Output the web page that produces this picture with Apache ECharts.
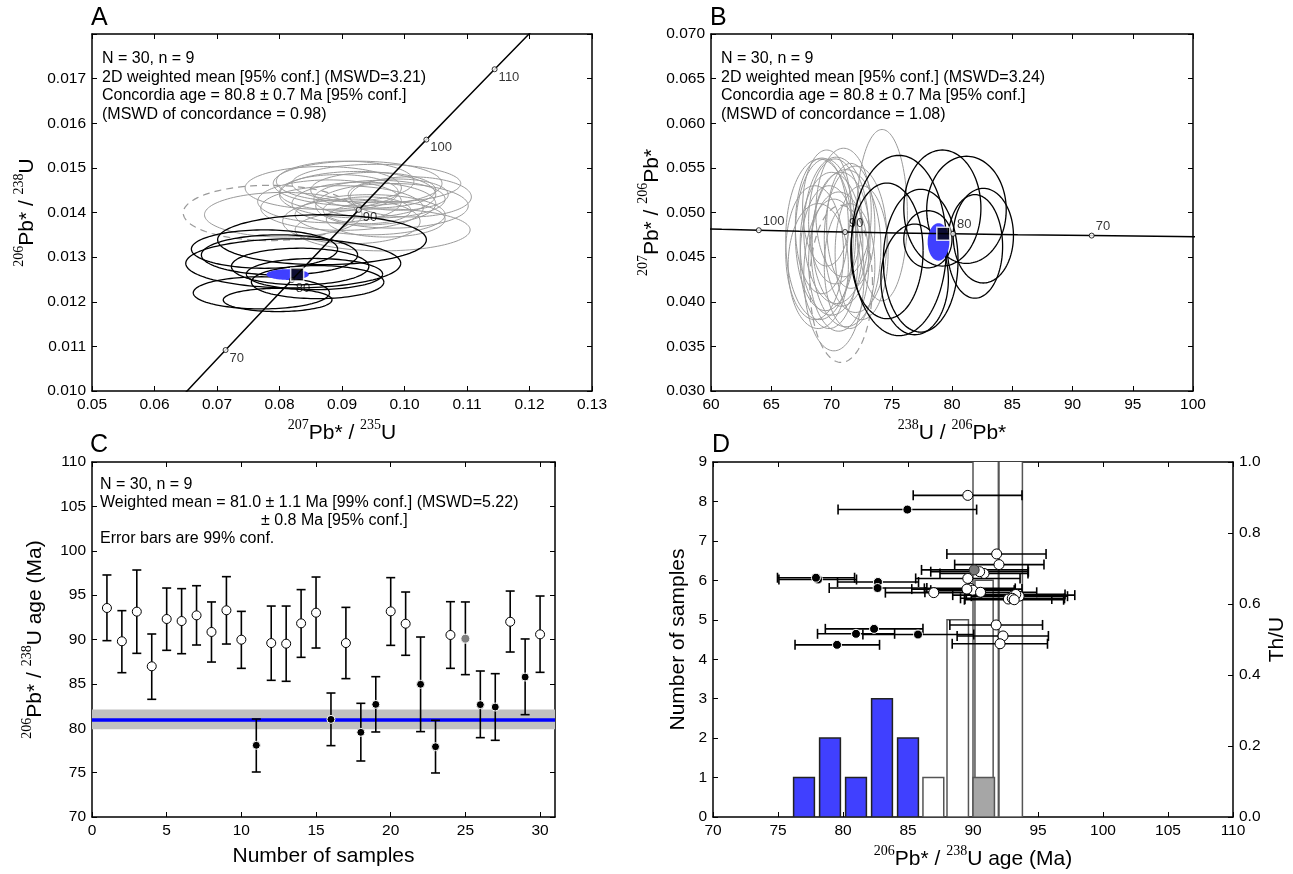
<!DOCTYPE html>
<html><head><meta charset="utf-8">
<script src="https://cdn.jsdelivr.net/npm/echarts@6/dist/echarts.min.js"></script>
<style>html,body{margin:0;padding:0;background:#fff}#c{width:1293px;height:874px}</style>
</head><body><div id="c"></div><script>
// ---------------- Panel A (Wetherill concordia): ellipses [207Pb/235U, 206Pb/238U, half-width, half-height]
const aGrayEllipses = [
 [0.0806,0.01395,0.0126,0.00050],[0.0870,0.01455,0.0125,0.00048],[0.0905,0.01470,0.0110,0.00045],
 [0.0925,0.01440,0.0125,0.00052],[0.0935,0.01420,0.0115,0.00048],[0.0950,0.01450,0.0100,0.00040],
 [0.0900,0.01410,0.0130,0.00050],[0.0945,0.01395,0.0120,0.00045],[0.0965,0.01361,0.0140,0.00047],
 [0.0960,0.01430,0.0105,0.00042],[0.0980,0.01415,0.0122,0.00050],[0.0915,0.01380,0.0110,0.00050],
 [0.0955,0.01465,0.0135,0.00043],[0.0990,0.01440,0.0080,0.00035],[0.0940,0.01405,0.0070,0.00030],
 [0.0895,0.01445,0.0095,0.00040],[0.0970,0.01385,0.0095,0.00040],[0.0925,0.01465,0.0135,0.00050],
 [0.1010,0.01435,0.0097,0.00045],[0.0880,0.01425,0.0115,0.00048]
];
const aDashedEllipses = [[0.0784,0.01399,0.0138,0.00062]];
const aBlackEllipses = [
 [0.0868,0.01339,0.0167,0.00056],[0.0776,0.01318,0.0117,0.00043],[0.0822,0.01286,0.0172,0.00055],
 [0.0833,0.01279,0.0110,0.00041],[0.0856,0.01262,0.0109,0.00035],[0.0771,0.01220,0.0109,0.00036],
 [0.0797,0.01204,0.0087,0.00026],[0.0861,0.01244,0.0106,0.00037],[0.0800,0.01305,0.0125,0.00045]
];
const aMeanEllipse = [[0.0813,0.01261,0.0034,0.00012]];
const concAges = [60,65,70,75,80,85,90,95,100,105,110,115,120];
const aConcX = [0.060872,0.066108,0.071371,0.076660,0.081975,0.087316,0.092683,0.098077,0.103498,0.108945,0.114419,0.119920,0.125449];
const aConcY = [0.0093509,0.0101341,0.0109180,0.0117023,0.0124873,0.0132729,0.0140592,0.0148460,0.0156334,0.0164215,0.0172102,0.0179995,0.0187894];
const aLabelAges = [70,80,90,100,110];
const aConcordiaAge = [[0.082828,0.012613]];
// ---------------- Panel B (Tera-Wasserburg): ellipses [238U/206Pb, 207Pb/206Pb, half-width, half-height]
const bGrayEllipses = [
 [74.2,0.0497,2.1,0.0096],[69.0,0.0470,2.8,0.0090],[69.5,0.0475,2.5,0.0085],[70.0,0.0465,2.6,0.0080],
 [70.4,0.0480,2.7,0.0082],[70.8,0.0470,2.4,0.0075],[71.2,0.0460,2.9,0.0088],[69.8,0.0450,2.4,0.0080],
 [68.6,0.0455,2.4,0.0075],[70.3,0.0490,2.2,0.0070],[71.6,0.0485,2.0,0.0070],[72.0,0.0470,2.6,0.0082],
 [69.2,0.0485,2.2,0.0076],[70.6,0.0445,2.5,0.0078],[71.0,0.0500,2.3,0.0072],[68.9,0.0440,2.5,0.0070],
 [72.5,0.0455,2.2,0.0075],[70.2,0.0430,2.5,0.0085],[69.6,0.0505,2.0,0.0065],[71.5,0.0440,2.1,0.0070]
];
const bDashedEllipses = [[70.8,0.0420,2.6,0.0088]];
const bBlackEllipses = [
 [74.6,0.0457,3.0,0.0076],[75.6,0.0463,3.95,0.0101],[77.4,0.0446,3.1,0.0080],
 [78.0,0.0470,2.0,0.0032],[79.2,0.0505,3.2,0.0065],[81.2,0.0503,3.3,0.0060],
 [82.6,0.0474,2.5,0.0053],[81.9,0.0462,2.3,0.0058],[76.9,0.0425,2.8,0.0062]
];
const bMeanEllipse = [[78.88,0.0467,0.9,0.0021]];
const bConcAges = [60,65,70,75,80,85,90,95,100,105,110];
const bConcX = [106.94,98.677,91.592,85.453,80.081,75.342,71.128,67.358,63.966,60.896,58.105];
const bConcY = [0.047214,0.047312,0.047411,0.047512,0.047611,0.047712,0.047812,0.047913,0.048015,0.048116,0.048219];
const bLabelAges = [70,80,90,100];
const bConcordiaAge = [[79.28,0.047628]];
// ---------------- Panel C: 206Pb/238U ages with 99% error bars
const sampleNo = [1,2,3,4,5,6,7,8,9,10,11,12,13,14,15,16,17,18,19,20,21,22,23,24,25,26,27,28,29,30];
const ageMa = [93.55,89.8,93.14,86.98,92.31,92.08,92.72,90.85,93.29,89.98,78.08,89.6,89.53,91.82,93.02,81.0,89.6,79.54,82.69,93.17,91.78,84.95,77.92,90.51,90.09,82.66,82.39,92.0,85.77,90.58];
const ageLo = [89.87,86.26,88.44,83.26,88.78,88.4,89.38,87.46,89.49,86.75,75.07,85.4,85.29,87.99,89.04,78.04,85.59,76.31,79.58,89.34,88.22,79.62,74.96,86.75,86.04,78.94,78.64,88.59,81.53,86.3];
const ageHi = [97.27,93.25,97.83,90.62,95.8,95.73,96.06,94.23,97.08,93.17,81.04,93.77,93.77,95.62,97.04,83.97,93.62,82.81,85.81,96.97,95.35,90.28,80.89,94.26,94.23,86.45,86.15,95.46,90.06,94.9];
const sampleType = ['o','o','o','o','o','o','o','o','o','o','b','o','o','o','o','b','o','b','b','o','o','b','b','o','g','b','b','o','b','o'];
const wMean = 81.0, wMeanLo = 79.9, wMeanHi = 82.1;
// ---------------- Panel D: Th/U and histogram [bin left, bin right, count]
const thU = [0.622,0.644,0.625,0.632,0.510,0.488,0.614,0.686,0.627,0.639,0.669,0.906,0.642,0.741,0.616,0.516,0.672,0.485,0.662,0.612,0.541,0.866,0.674,0.691,0.696,0.645,0.530,0.711,0.514,0.633];
const histBlue = [[76.2,77.8,1],[78.2,79.8,2],[80.2,81.8,1],[82.2,83.8,3],[84.2,85.8,2]];
const histTall = [[90.0,91.95,10],[92.0,93.8,10]];
const histWhite = [[86.15,87.75,1],[88.0,89.65,5],[90.15,91.55,6]];
const histGray = [[90.0,91.65,1]];

const F = '"Liberation Sans", Arial, Helvetica, sans-serif';
const SERIF = '"Liberation Serif", "DejaVu Serif", serif';
const rich = {
  n:{fontFamily:F,fontSize:21,color:'#000',lineHeight:26,verticalAlign:'bottom'},
  s:{fontFamily:SERIF,fontSize:14,color:'#000',lineHeight:26,verticalAlign:'top'}
};
const lab = {fontFamily:F,fontSize:15.5,color:'#000',margin:6};
const aLine = {show:true,onZero:false,lineStyle:{color:'#000',width:1.5}};
const aTick = {show:true,inside:true,length:5,lineStyle:{color:'#000',width:1}};

function ax(type, grid, min, max, interval, extra){
  return Object.assign({type:'value',gridIndex:grid,min,max,interval,
    axisLine:aLine,axisTick:aTick,splitLine:{show:false},axisLabel:Object.assign({},lab)},extra||{});
}
function mirror(grid,min,max,interval,pos){
  return ax('', grid, min, max, interval, {position:pos, axisLabel:{show:false}});
}
const xA = [];
const yA = [];
// grid 0 A
xA.push(ax('',0,0.05,0.13,0.01,{position:'bottom',axisLabel:Object.assign({},lab,{formatter:v=>v.toFixed(2)}),
  name:'{s|207}{n|Pb* / }{s|235}{n|U}',nameLocation:'middle',nameGap:27,nameTextStyle:{rich}}));
xA.push(mirror(0,0.05,0.13,0.01,'top'));
yA.push(ax('',0,0.010,0.018,0.001,{position:'left',axisLabel:Object.assign({},lab,{formatter:v=>v>0.01795?'':v.toFixed(3)}),
  name:'{s|206}{n|Pb* / }{s|238}{n|U}',nameLocation:'middle',nameGap:54,nameRotate:90,nameTextStyle:{rich}}));
yA.push(mirror(0,0.010,0.018,0.001,'right'));
// grid 1 B
xA.push(ax('',1,60,100,5,{position:'bottom',
  name:'{s|238}{n|U / }{s|206}{n|Pb*}',nameLocation:'middle',nameGap:27,nameTextStyle:{rich}}));
xA.push(mirror(1,60,100,5,'top'));
yA.push(ax('',1,0.030,0.070,0.005,{position:'left',axisLabel:Object.assign({},lab,{formatter:v=>v.toFixed(3)}),
  name:'{s|207}{n|Pb* / }{s|206}{n|Pb*}',nameLocation:'middle',nameGap:48,nameRotate:90,nameTextStyle:{rich}}));
yA.push(mirror(1,0.030,0.070,0.005,'right'));
// grid 2 C
xA.push(ax('',2,0,31,5,{position:'bottom',
  name:'Number of samples',nameLocation:'middle',nameGap:29,nameTextStyle:{fontFamily:F,fontSize:21,color:'#000'}}));
xA.push(mirror(2,0,31,5,'top'));
yA.push(ax('',2,70,110,5,{position:'left',
  name:'{s|206}{n|Pb* / }{s|238}{n|U age (Ma)}',nameLocation:'middle',nameGap:46,nameRotate:90,nameTextStyle:{rich}}));
yA.push(mirror(2,70,110,5,'right'));
// grid 3 D
xA.push(ax('',3,70,110,5,{position:'bottom',
  name:'{s|206}{n|Pb* / }{s|238}{n|U age (Ma)}',nameLocation:'middle',nameGap:27,nameTextStyle:{rich}}));
xA.push(mirror(3,70,110,5,'top'));
yA.push(ax('',3,0,9,1,{position:'left',
  name:'Number of samples',nameLocation:'middle',nameGap:24,nameRotate:90,nameTextStyle:{fontFamily:F,fontSize:21,color:'#000'}}));
yA.push(ax('',3,0,1,0.2,{position:'right',axisLabel:Object.assign({},lab,{formatter:v=>v.toFixed(1)}),
  name:'Th/U',nameLocation:'middle',nameGap:34,nameRotate:90,nameTextStyle:{fontFamily:F,fontSize:21,color:'#000'}}));

function ellipseSeries(data, xi, yi, style, filled, z){
  return {type:'custom',xAxisIndex:xi,yAxisIndex:yi,data,clip:true,silent:true,z:z||2,
    renderItem:function(p,api){
      const cx=api.value(0),cy=api.value(1),a=api.value(2),b=api.value(3);
      const pts=[];
      for(let k=0;k<=120;k++){const t=k/120*2*Math.PI;pts.push(api.coord([cx+a*Math.cos(t),cy+b*Math.sin(t)]));}
      return {type:filled?'polygon':'polyline',shape:{points:pts},style:Object.assign({fill:filled?style.fill:null},style)};
    }};
}
function concSeries(xs,ys,ages,labelAges,xi,yi,labOff){
  const line = xs.map((x,i)=>[x,ys[i]]);
  const pts = labelAges.map(a=>{const i=ages.indexOf(a);return {value:[xs[i],ys[i]],age:a};});
  return [
    {type:'line',xAxisIndex:xi,yAxisIndex:yi,data:line,showSymbol:false,clip:true,silent:true,z:4,
      lineStyle:{color:'#000',width:1.5},animation:false},
    {type:'scatter',xAxisIndex:xi,yAxisIndex:yi,data:pts,symbol:'circle',symbolSize:5,silent:true,z:5,
      itemStyle:{color:'#fff',borderColor:'#000',borderWidth:1},
      label:{show:true,position:'right',distance:2,offset:labOff,fontFamily:F,fontSize:13,color:'#000',
        formatter:p=>String(p.data.age)}}
  ];
}
function squareSeries(data,xi,yi){
  return {type:'scatter',xAxisIndex:xi,yAxisIndex:yi,data,symbol:'rect',symbolSize:13,silent:true,z:8,
    itemStyle:{color:'#000',borderColor:'#fff',borderWidth:1.5}};
}
const grayS = {stroke:'#9a9a9a',lineWidth:1};
const blackS = {stroke:'#000',lineWidth:1.3};
const dashS = {stroke:'#9a9a9a',lineWidth:1.2,lineDash:[7,5]};
const blueS = {fill:'#4040ff',stroke:null};

// Panel C series data
const cErr = sampleNo.map((n,i)=>[n,ageLo[i],ageHi[i]]);
const cOpen = [], cBlack = [], cGray = [];
const dOpen = [], dBlack = [], dGray = [];
sampleNo.forEach((n,i)=>{
  const t = sampleType[i];
  (t==='o'?cOpen:t==='b'?cBlack:cGray).push([n,ageMa[i]]);
  (t==='o'?dOpen:t==='b'?dBlack:dGray).push([ageMa[i],thU[i]]);
});
const dErr = sampleNo.map((n,i)=>[ageLo[i],ageHi[i],thU[i]]);

function vErrSeries(data,xi,yi){
  return {type:'custom',xAxisIndex:xi,yAxisIndex:yi,data,silent:true,z:5,clip:true,
    renderItem:function(p,api){
      const x=api.value(0),lo=api.value(1),hi=api.value(2);
      const p1=api.coord([x,lo]),p2=api.coord([x,hi]);const w=4.5;
      const st={stroke:'#000',lineWidth:1.6};
      return {type:'group',children:[
        {type:'line',shape:{x1:p1[0],y1:p1[1],x2:p2[0],y2:p2[1]},style:st},
        {type:'line',shape:{x1:p1[0]-w,y1:p1[1],x2:p1[0]+w,y2:p1[1]},style:st},
        {type:'line',shape:{x1:p2[0]-w,y1:p2[1],x2:p2[0]+w,y2:p2[1]},style:st}]};
    }};
}
function hErrSeries(data,xi,yi){
  return {type:'custom',xAxisIndex:xi,yAxisIndex:yi,data,silent:true,z:5,clip:true,
    renderItem:function(p,api){
      const lo=api.value(0),hi=api.value(1),y=api.value(2);
      const p1=api.coord([lo,y]),p2=api.coord([hi,y]);const w=5;
      const st={stroke:'#000',lineWidth:1.6};
      return {type:'group',children:[
        {type:'line',shape:{x1:p1[0],y1:p1[1],x2:p2[0],y2:p2[1]},style:st},
        {type:'line',shape:{x1:p1[0],y1:p1[1]-w,x2:p1[0],y2:p1[1]+w},style:st},
        {type:'line',shape:{x1:p2[0],y1:p2[1]-w,x2:p2[0],y2:p2[1]+w},style:st}]};
    }};
}
function histSeries(data,xi,yi,style,z){
  return {type:'custom',xAxisIndex:xi,yAxisIndex:yi,data,silent:true,z:z,clip:true,
    renderItem:function(p,api){
      const p0=api.coord([api.value(0),0]),p1=api.coord([api.value(1),api.value(2)]);
      return {type:'rect',shape:{x:p0[0],y:p1[1],width:p1[0]-p0[0],height:p0[1]-p1[1]},style:style};
    }};
}
function scat(data,xi,yi,size,color,border,z){
  return {type:'scatter',xAxisIndex:xi,yAxisIndex:yi,data,symbol:'circle',symbolSize:size,silent:true,z:z||6,
    itemStyle:{color:color,borderColor:border,borderWidth:1,opacity:1}};
}

const series = [
  ellipseSeries(aGrayEllipses,0,0,grayS,false,2),
  ellipseSeries(aDashedEllipses,0,0,dashS,false,2),
  ellipseSeries(aBlackEllipses,0,0,blackS,false,3),
  ellipseSeries(aMeanEllipse,0,0,blueS,true,3),
  ...concSeries(aConcX,aConcY,concAges,aLabelAges,0,0,[-1,8]),
  squareSeries(aConcordiaAge,0,0),

  ellipseSeries(bGrayEllipses,2,2,grayS,false,2),
  ellipseSeries(bDashedEllipses,2,2,dashS,false,2),
  ellipseSeries(bBlackEllipses,2,2,blackS,false,3),
  ellipseSeries(bMeanEllipse,2,2,blueS,true,3),
  ...concSeries(bConcX,bConcY,bConcAges,bLabelAges,2,2,[-1,-9]),
  squareSeries(bConcordiaAge,2,2),

  {type:'line',xAxisIndex:4,yAxisIndex:4,data:[],silent:true,z:2,
    markArea:{silent:true,itemStyle:{color:'#c0c0c0'},data:[[{yAxis:wMeanLo},{yAxis:wMeanHi}]]},
    markLine:{silent:true,symbol:'none',label:{show:false},lineStyle:{color:'#0000ff',width:3.5,type:'solid'},data:[{yAxis:wMean}]}},
  vErrSeries(cErr,4,4),
  scat(cOpen,4,4,9,'#fff','#000'),
  scat(cBlack,4,4,8,'#000','#fff'),
  scat(cGray,4,4,9,'#808080','#fff'),

  histSeries(histTall,6,6,{fill:'#fff',stroke:'#555',lineWidth:1.5},2),
  histSeries(histWhite,6,6,{fill:'#fff',stroke:'#555',lineWidth:1.5},3),
  histSeries(histGray,6,6,{fill:'#a6a6a6',stroke:'#555',lineWidth:1.5},3),
  histSeries(histBlue,6,6,{fill:'#4040ff',stroke:'#222',lineWidth:1.5},3),
  hErrSeries(dErr,6,7),
  scat(dOpen,6,7,10,'#fff','#000'),
  scat(dGray,6,7,10,'#777','#333'),
  scat(dBlack,6,7,9,'#000','#fff')
];

function txt(x,y,s,size){return {type:'text',x:x,y:y,silent:true,style:{text:s,fill:'#000',font:(size||16)+'px '+F,textVerticalAlign:'middle',verticalAlign:'middle'}};}
const graphic = [
  txt(91,18,'A',25), txt(710,18,'B',25), txt(90,445,'C',25), txt(712,445,'D',25),
  txt(102,59,'N = 30, n = 9'), txt(102,77.5,'2D weighted mean [95% conf.] (MSWD=3.21)'),
  txt(102,96,'Concordia age = 80.8 ± 0.7 Ma [95% conf.]'), txt(102,114.5,'(MSWD of concordance = 0.98)'),
  txt(721,59,'N = 30, n = 9'), txt(721,77.5,'2D weighted mean [95% conf.] (MSWD=3.24)'),
  txt(721,96,'Concordia age = 80.8 ± 0.7 Ma [95% conf.]'), txt(721,114.5,'(MSWD of concordance = 1.08)'),
  txt(100,485,'N = 30, n = 9'), txt(100,503,'Weighted mean = 81.0 ± 1.1 Ma [99% conf.] (MSWD=5.22)'),
  txt(261,520.5,'± 0.8 Ma [95% conf.]'), txt(100,538.5,'Error bars are 99% conf.')
];

const chart = echarts.init(document.getElementById('c'),null,{renderer:'canvas'});
chart.setOption({
  animation:false,
  backgroundColor:'#fff',
  textStyle:{fontFamily:F},
  grid:[
    {left:92,top:34,width:500,height:357,outerBoundsMode:'none'},
    {left:711,top:34,width:482,height:357,outerBoundsMode:'none'},
    {left:92,top:462,width:463,height:355,outerBoundsMode:'none'},
    {left:713,top:462,width:520,height:355,outerBoundsMode:'none'}
  ],
  xAxis:xA, yAxis:yA, series, graphic
});
</script></body></html>
